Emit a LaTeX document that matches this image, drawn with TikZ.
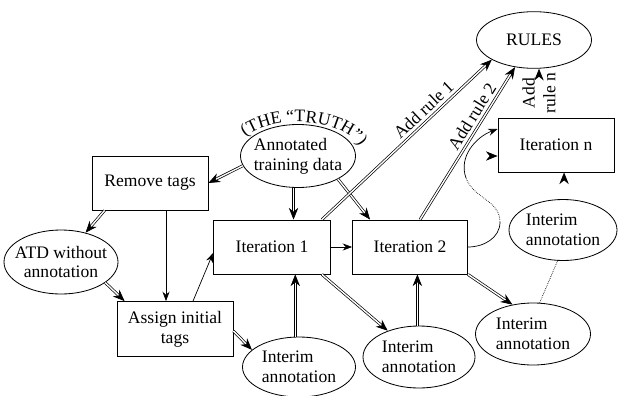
\documentclass[tikz,border=0pt]{standalone}
\usepackage{fontspec}
\setmainfont{Liberation Serif}
\usetikzlibrary{shapes.geometric,arrows.meta,decorations.text,decorations.markings}
\tikzset{
  box/.style={draw, rectangle, line width=0.7pt, minimum width=3.48cm, minimum height=1.62cm, align=center},
  oval/.style={draw, ellipse, line width=0.7pt, inner sep=0pt, inner xsep=-12pt, minimum width=3.45cm, minimum height=1.86cm},
  dbl/.style={double, double distance=1.2pt, line width=0.6pt, shorten >=7pt,
    decoration={markings, mark=at position 1 with {\pgfsetinnerlinewidth{0pt}\pgfsetlinewidth{0.6pt}\arrow{Stealth[length=10pt,width=8pt]}}},
    postaction={decorate}},
  thinarr/.style={line width=0.6pt, -{Stealth[length=8pt,width=6pt]}}
}
\begin{document}
\begin{tikzpicture}[font=\fontsize{15}{17}\selectfont]
\useasboundingbox (0,0) rectangle (18.54,11.85);
% nodes
\node[oval] (rules) at (16.02,10.65) [minimum height=1.7cm] {RULES};
\node[box] (itn) at (16.68,7.50) {Iteration n};
\node[oval, align=left] (imn) at (16.89,4.95) [minimum width=3.24cm, minimum height=1.83cm] {Interim\\annotation};
\node[oval, align=left] (atd) at (8.94,7.17) [minimum height=1.89cm] {Annotated\\training data};
\node[box] (remove) at (4.50,6.36) {Remove tags};
\node[box] (it1) at (8.16,4.44) [minimum width=3.51cm] {Iteration 1};
\node[box] (it2) at (12.30,4.44) [minimum width=3.45cm] {Iteration 2};
\node[oval, align=center] (noann) at (1.83,3.99) [minimum width=3.42cm, minimum height=1.92cm] {ATD without\\annotation};
\node[box] (assign) at (5.25,1.98) [minimum height=1.65cm] {Assign initial\\tags};
\node[oval, align=left] (im1) at (8.97,0.84) [minimum width=3.39cm, minimum height=1.8cm] {Interim\\annotation};
\node[oval, align=left] (im2) at (12.57,1.14) [minimum width=3.36cm] {Interim\\annotation};
\node[oval, align=left] (im3) at (15.99,1.83) {Interim\\annotation};
% curved title over the training data
\path[decorate, decoration={text along path, text align=center,
  text={|\fontsize{15}{17}\selectfont|(THE “TRUTH”)}}]
  ([shift={(155:1.92 and 1.02)}]atd.center) arc[start angle=155, end angle=5, x radius=1.92, y radius=1.02];
% connectors
\draw[dbl] (atd.190) -- (remove.east);
\draw[dbl] (atd.262) -- (atd.262 |- it1.north);
\draw[dbl] (atd.-30) -- ([xshift=0.54cm]it2.north west);
\draw[dbl] (atd.east) -- (atd.east -| itn.west);
\draw[dbl] ([xshift=0.39cm]remove.south west) -- (noann.50);
\draw[thinarr] ([xshift=0.48cm]remove.south) -- ([xshift=0.48cm]remove.south |- assign.north);
\draw[dbl] (noann.-25) -- ([xshift=0.24cm]assign.north west);
\draw[thinarr] ([xshift=0.54cm]assign.north) -- ([yshift=-0.18cm]it1.west);
\draw[dbl] ([yshift=-0.06cm]assign.east) -- (im1.160);
\draw[dbl] (im1.97) -- (im1.97 |- it1.south);
\draw[thinarr] (it1.east) -- (it2.west);
\draw[dbl] ([xshift=-0.27cm]it1.south east) -- (im2.140);
\draw[dbl] (im2.93) -- (im2.93 |- it2.south);
\draw[dbl] (it2.south east) -- (im3.125);
\draw[dbl] ([xshift=-0.27cm]it1.north east) -- (rules.205) node[pos=0.64, sloped, above] {Add rule 1};
\draw[dbl] ([xshift=0.3cm]it2.north) -- (rules.235) node[pos=0.64, sloped, above] {Add rule 2};
\draw[dbl] ([xshift=-0.51cm]itn.north) -- ([xshift=-0.51cm]itn.north |- rules.south)
  node[midway, sloped, above] {Add} node[midway, sloped, below] {rule n};
\draw[dbl] (imn.88) -- (imn.88 |- itn.south);
% loop back from iteration 2 to iteration n
\coordinate (bendA) at (15.0,5.19);
\coordinate (bendB) at (13.98,6.51);
\draw[line width=0.6pt] (it2.east) to[out=0, in=-90] (bendA);
\draw[densely dotted, line width=0.6pt] (bendA) to[out=90, in=-70] (bendB);
\draw[thinarr] (bendB) to[out=110, in=200] ([yshift=0.48cm]itn.west);
\draw[densely dotted, line width=0.6pt] (im3.78) -- (imn.260);
\end{tikzpicture}
\end{document}
